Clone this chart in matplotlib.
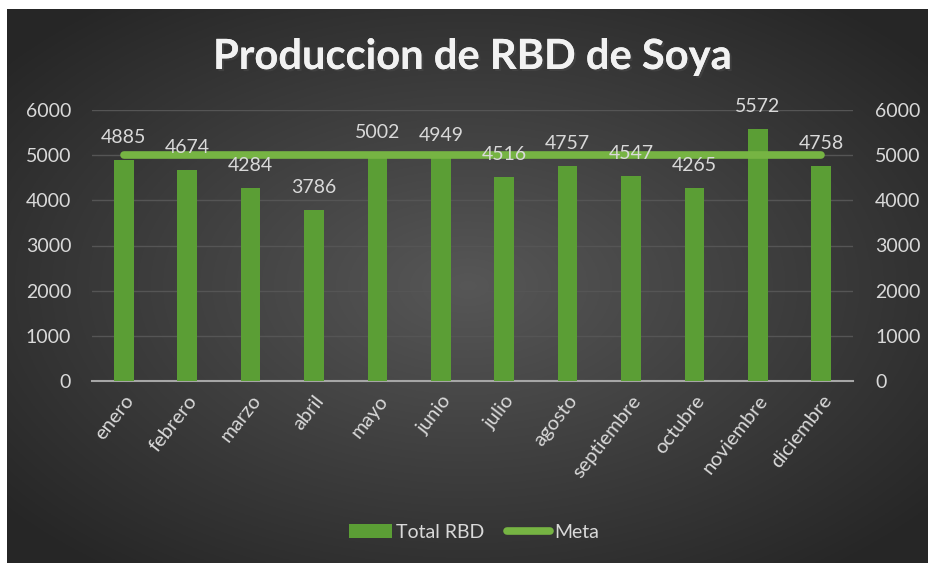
import numpy as np
import matplotlib
matplotlib.use("Agg")
import matplotlib.pyplot as plt
from matplotlib.lines import Line2D
from matplotlib.patches import Patch
import matplotlib.patheffects as pe

plt.rcParams['font.family'] = ['Lato', 'DejaVu Sans']

meses = ["enero", "febrero", "marzo", "abril", "mayo", "junio", "julio",
         "agosto", "septiembre", "octubre", "noviembre", "diciembre"]
total_rbd = [4885, 4674, 4284, 3786, 5002, 4949, 4516, 4757, 4547, 4265, 5572, 4758]
meta = [5000] * 12
yticks = [0, 1000, 2000, 3000, 4000, 5000, 6000]

W, H = 929, 563
fig = plt.figure(figsize=(W / 100, H / 100), dpi=100, facecolor="white")

# fondo oscuro con degradado radial
bg = fig.add_axes([7 / W, 0, 1 - 7 / W, 1 - 9 / H])
yy, xx = np.mgrid[-1:1:300j, -1:1:500j]
r = np.clip(np.sqrt(xx ** 2 + yy ** 2) / 1.3, 0, 1)
centro, borde = 0.34, 0.15
g = centro + (borde - centro) * r
bg.imshow(np.dstack([g, g, g]), aspect="auto", extent=[0, 1, 0, 1])
bg.set_axis_off()

ax = fig.add_axes([92 / W, 1 - 381 / H, (853 - 92) / W, (381 - 110) / H])
ax.set_facecolor("none")
x = np.arange(len(meses))

ax.bar(x, total_rbd, width=0.31, color="#5b9e35", zorder=3)
ax.plot(x, meta, color="#76b443", lw=5.5, solid_capstyle="round", zorder=4)

for xi, v in zip(x, total_rbd):
    ax.annotate(str(v), (xi, v), xytext=(0, 10), textcoords="offset points",
                ha="center", va="bottom", color="#d9d9d9", fontsize=14, zorder=5)

ax.set_ylim(0, 6000)
ax.set_xlim(-0.5, len(meses) - 0.5)
ax.set_yticks(yticks)
ax.yaxis.grid(True, color="#555555", lw=1)
ax.set_axisbelow(True)
for s in ["top", "right", "left"]:
    ax.spines[s].set_visible(False)
ax.spines["bottom"].set_color("#a6a6a6")
ax.spines["bottom"].set_linewidth(1.5)
ax.tick_params(axis="y", length=0, colors="#d9d9d9", labelsize=14, pad=15)
ax.tick_params(axis="x", length=0, colors="#d9d9d9", labelsize=14.5, pad=8)
ax.set_xticks(x)
ax.set_xticklabels(meses, rotation=52, ha="right", rotation_mode="anchor")

ax2 = ax.twinx()
ax2.set_ylim(0, 6000)
ax2.set_yticks(yticks)
for s in ax2.spines.values():
    s.set_visible(False)
ax2.tick_params(axis="y", length=0, colors="#d9d9d9", labelsize=14, pad=16)

fig.text(472 / W, 1 - 57 / H, "Produccion de RBD de Soya", ha="center", va="center",
         color="#f2f2f2", fontsize=30, fontweight="bold",
         path_effects=[pe.withSimplePatchShadow(offset=(1.5, -1.5), alpha=0.6), pe.Normal()])

handles = [Patch(facecolor="#5b9e35", label="Total RBD"),
           Line2D([0], [0], color="#76b443", lw=5.5, solid_capstyle="round", label="Meta")]
fig.legend(handles=handles, loc="center", bbox_to_anchor=(474 / W, 1 - 532 / H), ncol=2,
           frameon=False, labelcolor="#d9d9d9", fontsize=14, handlelength=2.2,
           handletextpad=0.2, columnspacing=1.2)

fig.savefig("out.png", dpi=100, facecolor="white")
